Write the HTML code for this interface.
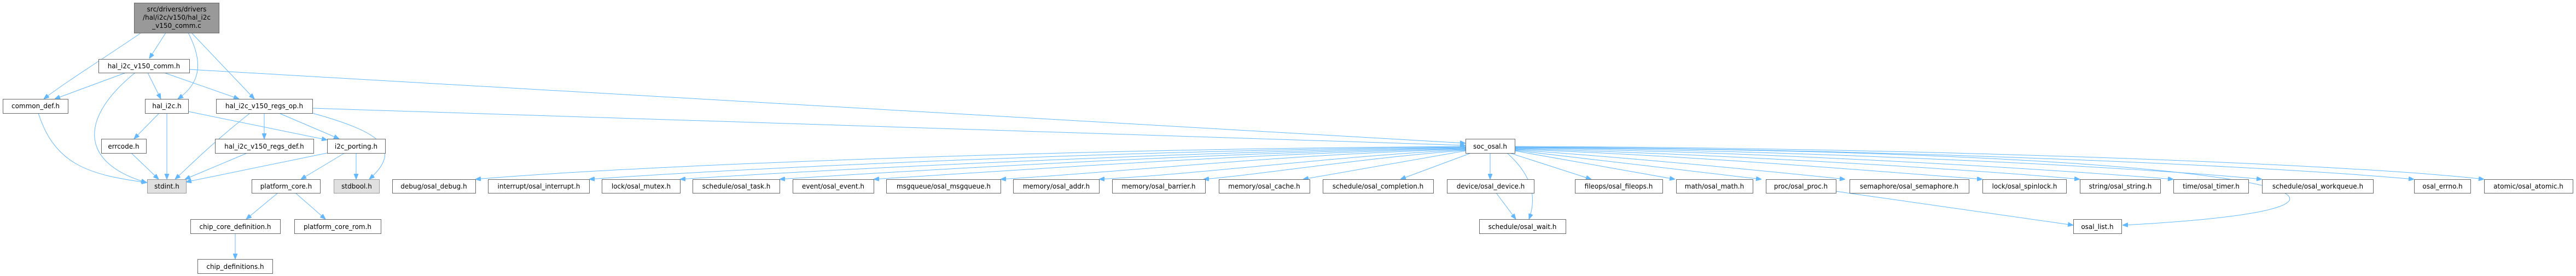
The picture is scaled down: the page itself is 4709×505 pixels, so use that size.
<!DOCTYPE html>
<html><head><meta charset="utf-8"><style>
html,body{margin:0;padding:0;background:#fff;}
svg{display:block;}
text{font-family:"DejaVu Sans","Liberation Sans",sans-serif;font-size:12px;fill:#000;text-anchor:middle;}
.n{fill:#fff;stroke:#666;stroke-width:1;}
.g{fill:#e0e0e0;stroke:#999;stroke-width:1;}
.m{fill:#999;stroke:#666;stroke-width:1;}
path{fill:none;stroke:#63b8ff;stroke-width:1;marker-end:url(#a);}
</style></head><body>
<svg width="4709" height="505" viewBox="0 0 4709 505" xmlns="http://www.w3.org/2000/svg">
<defs><marker id="a" markerWidth="10" markerHeight="8" refX="10" refY="4" orient="auto" markerUnits="userSpaceOnUse"><polygon points="0,0 10,4 0,8" fill="#63b8ff" stroke="#63b8ff"/></marker></defs>
<!-- edges -->
<path d="M258 60 C200 100,120 150,80 181"/>
<path d="M303 60 L273 107"/>
<path d="M344 60 C370 110,370 150,325 181"/>
<path d="M350 60 L465 181"/>
<path d="M230 133 L100 181"/>
<path d="M247 133 C140 220,150 300,268 334"/>
<path d="M270 133 L294 181"/>
<path d="M300 133 L437 181"/>
<path d="M346 127 L2679 262"/>
<path d="M70 207 C100 300,160 320,269 334"/>
<path d="M291 207 L245 254"/>
<path d="M305 207 L305 328"/>
<path d="M344 204 L598 256"/>
<path d="M457 207 C390 260,350 300,320 328"/>
<path d="M483 207 L483 254"/>
<path d="M510 207 L620 254"/>
<path d="M571 207 C690 240,740 270,675 328"/>
<path d="M571 198 L2679 266"/>
<path d="M240 280 L290 328"/>
<path d="M452 280 L338 328"/>
<path d="M598 280 L340 333"/>
<path d="M630 280 L550 328"/>
<path d="M651 280 L651 328"/>
<path d="M508 353 L450 401"/>
<path d="M540 353 L595 401"/>
<path d="M430 427 L430 474"/>
<!-- soc_osal fan-out -->
<path d="M2679 268 C2000 272,1200 300,869 328"/>
<path d="M2679 269 C2100 274,1400 305,1077 328"/>
<path d="M2679 270 C2200 276,1550 308,1243 328"/>
<path d="M2679 271 C2250 278,1700 310,1425 328"/>
<path d="M2679 272 C2300 280,1850 312,1597 328"/>
<path d="M2679 273 C2350 282,2050 315,1829 328"/>
<path d="M2679 274 C2450 285,2200 318,2009 328"/>
<path d="M2679 275 C2500 288,2300 320,2200 328"/>
<path d="M2679 276 L2382 328"/>
<path d="M2689 280 L2560 328"/>
<path d="M2724 280 L2724 328"/>
<path d="M2760 280 L2909 328"/>
<path d="M2769 276 L3062 328"/>
<path d="M2769 275 L3220 328"/>
<path d="M2769 274 C3000 290,3250 315,3373 328"/>
<path d="M2769 273 C3100 285,3450 315,3624 328"/>
<path d="M2769 272 C3150 282,3600 310,3802 328"/>
<path d="M2769 271 C3250 278,3750 310,3973 328"/>
<path d="M2769 270 C3300 275,3900 305,4135 328"/>
<path d="M2769 269 C3400 272,4100 300,4413 328"/>
<path d="M2769 268 C3500 270,4300 300,4541 328"/>
<path d="M2735 353 L2771 401"/>
<path d="M2755 280 C2800 320,2810 360,2795 401"/>
<path d="M3356 350 L3790 412"/>
<path d="M2769 270 C4200 275,4500 380,3880 412"/>
<!-- nodes -->
<rect class="m" x="245.5" y="5.5" width="155" height="55"/>
<text x="323" y="21">src/drivers/drivers</text>
<text x="323" y="36">/hal/i2c/v150/hal_i2c</text>
<text x="323" y="51">_v150_comm.c</text>
<rect class="n" x="180.5" y="108.5" width="166" height="25"/><text x="263" y="125">hal_i2c_v150_comm.h</text>
<rect class="n" x="5.5" y="181.5" width="119" height="26"/><text x="65" y="198">common_def.h</text>
<rect class="n" x="265.5" y="181.5" width="79" height="26"/><text x="305" y="198">hal_i2c.h</text>
<rect class="n" x="395.5" y="181.5" width="176" height="26"/><text x="483" y="198">hal_i2c_v150_regs_op.h</text>
<rect class="n" x="185.5" y="254.5" width="82" height="26"/><text x="226" y="272">errcode.h</text>
<rect class="n" x="393.5" y="254.5" width="180" height="26"/><text x="483" y="272">hal_i2c_v150_regs_def.h</text>
<rect class="n" x="598.5" y="254.5" width="106" height="26"/><text x="651" y="272">i2c_porting.h</text>
<rect class="n" x="2679.5" y="254.5" width="90" height="26"/><text x="2724" y="272">soc_osal.h</text>
<rect class="g" x="269.5" y="328.5" width="71" height="25"/><text x="305" y="345">stdint.h</text>
<rect class="n" x="460.5" y="328.5" width="125" height="25"/><text x="523" y="345">platform_core.h</text>
<rect class="g" x="610.5" y="328.5" width="83" height="25"/><text x="652" y="345">stdbool.h</text>
<rect class="n" x="717.5" y="328.5" width="152" height="25"/><text x="793" y="345">debug/osal_debug.h</text>
<rect class="n" x="892.5" y="328.5" width="185" height="25"/><text x="985" y="345">interrupt/osal_interrupt.h</text>
<rect class="n" x="1100.5" y="328.5" width="143" height="25"/><text x="1172" y="345">lock/osal_mutex.h</text>
<rect class="n" x="1266.5" y="328.5" width="159" height="25"/><text x="1346" y="345">schedule/osal_task.h</text>
<rect class="n" x="1449.5" y="328.5" width="148" height="25"/><text x="1523" y="345">event/osal_event.h</text>
<rect class="n" x="1620.5" y="328.5" width="209" height="25"/><text x="1725" y="345">msgqueue/osal_msgqueue.h</text>
<rect class="n" x="1852.5" y="328.5" width="157" height="25"/><text x="1931" y="345">memory/osal_addr.h</text>
<rect class="n" x="2033.5" y="328.5" width="170" height="25"/><text x="2118" y="345">memory/osal_barrier.h</text>
<rect class="n" x="2228.5" y="328.5" width="166" height="25"/><text x="2311" y="345">memory/osal_cache.h</text>
<rect class="n" x="2418.5" y="328.5" width="202" height="25"/><text x="2519" y="345">schedule/osal_completion.h</text>
<rect class="n" x="2645.5" y="328.5" width="159" height="25"/><text x="2725" y="345">device/osal_device.h</text>
<rect class="n" x="2879.5" y="328.5" width="160" height="25"/><text x="2959" y="345">fileops/osal_fileops.h</text>
<rect class="n" x="3064.5" y="328.5" width="140" height="25"/><text x="3134" y="345">math/osal_math.h</text>
<rect class="n" x="3228.5" y="328.5" width="128" height="25"/><text x="3292" y="345">proc/osal_proc.h</text>
<rect class="n" x="3381.5" y="328.5" width="218" height="25"/><text x="3490" y="345">semaphore/osal_semaphore.h</text>
<rect class="n" x="3624.5" y="328.5" width="153" height="25"/><text x="3701" y="345">lock/osal_spinlock.h</text>
<rect class="n" x="3802.5" y="328.5" width="147" height="25"/><text x="3876" y="345">string/osal_string.h</text>
<rect class="n" x="3973.5" y="328.5" width="137" height="25"/><text x="4042" y="345">time/osal_timer.h</text>
<rect class="n" x="4135.5" y="328.5" width="203" height="25"/><text x="4237" y="345">schedule/osal_workqueue.h</text>
<rect class="n" x="4413.5" y="328.5" width="103" height="25"/><text x="4465" y="345">osal_errno.h</text>
<rect class="n" x="4541.5" y="328.5" width="162" height="25"/><text x="4622" y="345">atomic/osal_atomic.h</text>
<rect class="n" x="348.5" y="401.5" width="164" height="26"/><text x="430" y="419">chip_core_definition.h</text>
<rect class="n" x="538.5" y="401.5" width="158" height="26"/><text x="617" y="419">platform_core_rom.h</text>
<rect class="n" x="2704.5" y="401.5" width="158" height="26"/><text x="2783" y="419">schedule/osal_wait.h</text>
<rect class="n" x="3790.5" y="401.5" width="88" height="26"/><text x="3834" y="419">osal_list.h</text>
<rect class="n" x="361.5" y="474.5" width="137" height="26"/><text x="430" y="492">chip_definitions.h</text>
</svg>
</body></html>
